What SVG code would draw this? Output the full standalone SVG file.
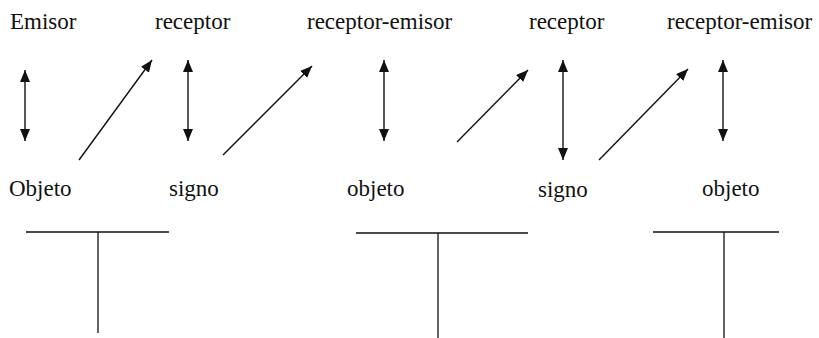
<svg xmlns="http://www.w3.org/2000/svg" width="819" height="338" viewBox="0 0 819 338">
  <style>
    .lbl { font-family: "Liberation Serif", "Times New Roman", serif; font-size: 23px; fill: #111; }
    .arr { stroke: #111; stroke-width: 1.4; fill: none; }
    .tee { stroke: #111; stroke-width: 1.3; fill: none; }
  </style>
  <defs>
    <marker id="head" viewBox="0 0 12 10" refX="12" refY="5" markerWidth="12" markerHeight="10" markerUnits="userSpaceOnUse" orient="auto-start-reverse">
      <path d="M0,0 L12,5 L0,10 Z" fill="#111"/>
    </marker>
  </defs>
  <rect width="819" height="338" fill="#fff"/>

  <!-- top row labels -->
  <g id="emisor"><text class="lbl" x="10" y="29">Emisor</text></g>
  <g id="receptor-1"><text class="lbl" x="155" y="29">receptor</text></g>
  <g id="receptor-emisor-1"><text class="lbl" x="307" y="29">receptor-emisor</text></g>
  <g id="receptor-2"><text class="lbl" x="529" y="29">receptor</text></g>
  <g id="receptor-emisor-2"><text class="lbl" x="667" y="29">receptor-emisor</text></g>

  <!-- bottom row labels -->
  <g id="objeto-1"><text class="lbl" x="9" y="196">Objeto</text></g>
  <g id="signo-1"><text class="lbl" x="169" y="196">signo</text></g>
  <g id="objeto-2"><text class="lbl" x="347" y="196">objeto</text></g>
  <g id="signo-2"><text class="lbl" x="538" y="197">signo</text></g>
  <g id="objeto-3"><text class="lbl" x="702" y="196">objeto</text></g>

  <!-- arrows between the rows -->
  <g id="connectors">
    <line class="arr" x1="25" y1="70" x2="25" y2="141" marker-start="url(#head)" marker-end="url(#head)"/>
    <line class="arr" x1="79" y1="160" x2="152" y2="60" marker-end="url(#head)"/>
    <line class="arr" x1="188" y1="60" x2="188" y2="141" marker-start="url(#head)" marker-end="url(#head)"/>
    <line class="arr" x1="223" y1="155" x2="312" y2="66" marker-end="url(#head)"/>
    <line class="arr" x1="384" y1="60" x2="384" y2="141" marker-start="url(#head)" marker-end="url(#head)"/>
    <line class="arr" x1="457" y1="142" x2="528" y2="70" marker-end="url(#head)"/>
    <line class="arr" x1="563" y1="60" x2="563" y2="160" marker-start="url(#head)" marker-end="url(#head)"/>
    <line class="arr" x1="599" y1="160" x2="688" y2="69" marker-end="url(#head)"/>
    <line class="arr" x1="723" y1="60" x2="723" y2="141" marker-start="url(#head)" marker-end="url(#head)"/>
  </g>

  <!-- T-shaped brackets under the labels -->
  <g id="tee-1">
    <path class="tee" d="M26,232 H169 M98,232 V333"/>
  </g>
  <g id="tee-2">
    <path class="tee" d="M356,233 H528 M438,233 V338"/>
  </g>
  <g id="tee-3">
    <path class="tee" d="M653,232 H779 M724,232 V338"/>
  </g>
</svg>
